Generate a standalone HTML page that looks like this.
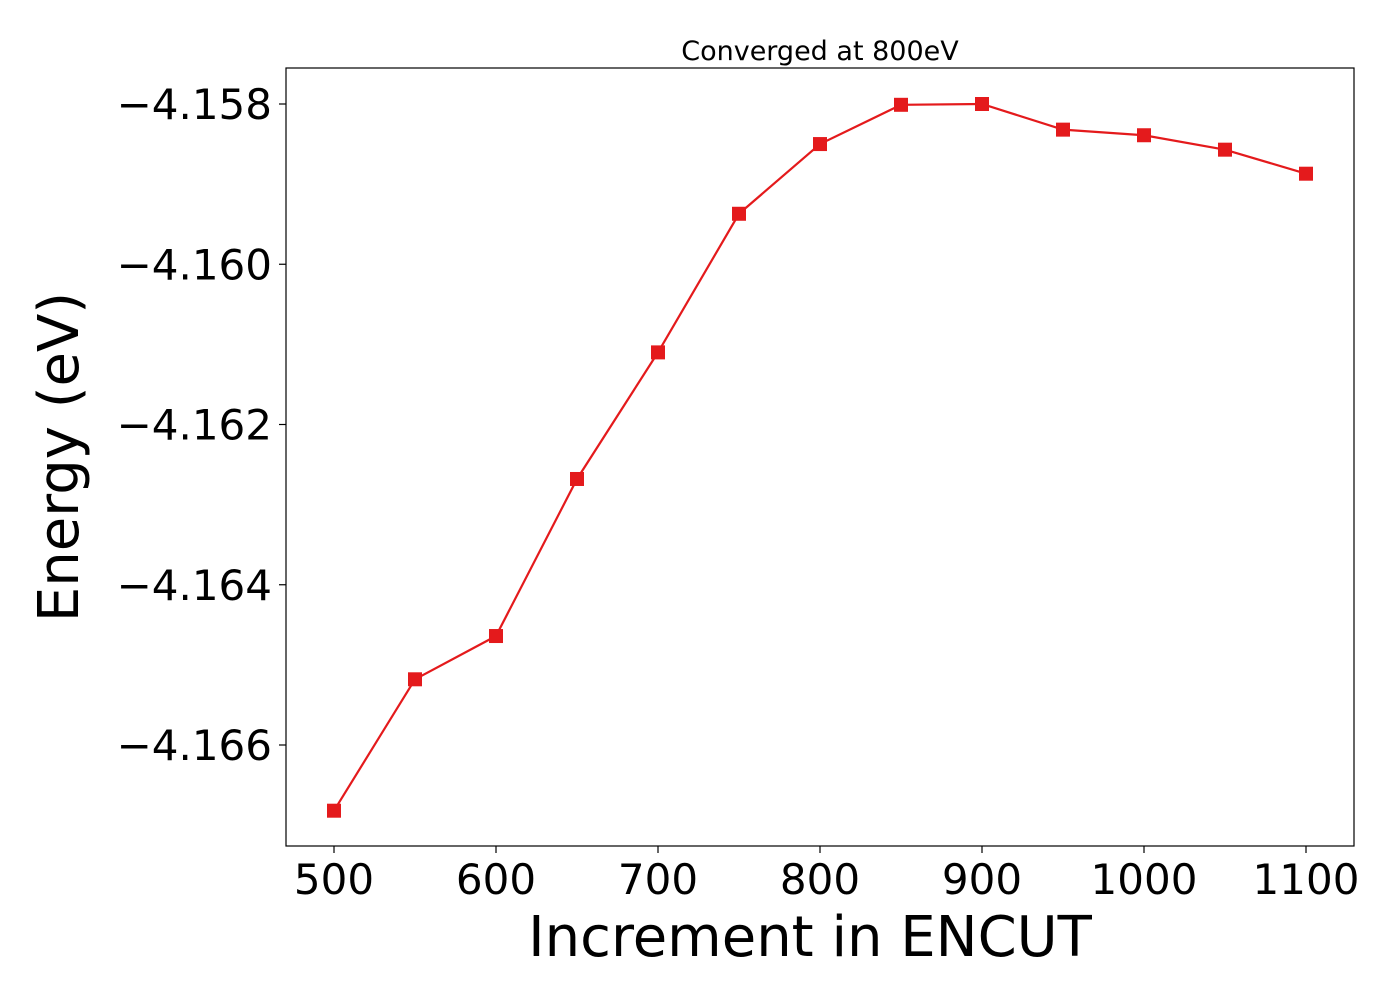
<!DOCTYPE html>
<html><head><meta charset="utf-8"><style>
html,body{margin:0;padding:0;background:#fff;}
svg text{font-family:"DejaVu Sans","Liberation Sans",sans-serif;fill:#000;}
</style></head><body>
<svg id="chart" width="1400" height="1000">
<rect x="0" y="0" width="1400" height="1000" fill="#fff"/>
<g id="ticks"></g>
<g id="series"></g>
<rect x="286" y="68" width="1068" height="778" fill="none" stroke="#000" stroke-width="1.2"/>
<text x="820" y="60" font-size="27" text-anchor="middle">Converged at 800eV</text>
<text x="810" y="956" font-size="56" text-anchor="middle">Increment in ENCUT</text>
<text transform="translate(78,457) rotate(-90)" font-size="56" text-anchor="middle">Energy (eV)</text>
</svg>
<script>
const encut = [500,550,600,650,700,750,800,850,900,950,1000,1050,1100];
const energy = [-4.16682,-4.16518,-4.16464,-4.16268,-4.16110,-4.15937,-4.15850,-4.15801,-4.15800,-4.15832,-4.15839,-4.15857,-4.15887];
const xTicks = [500,600,700,800,900,1000,1100];
const yTicks = [-4.158,-4.160,-4.162,-4.164,-4.166];
const yTickLabels = ["\u22124.158","\u22124.160","\u22124.162","\u22124.164","\u22124.166"];

const NS="http://www.w3.org/2000/svg";
function xs(v){return 334+(v-500)*(1306-334)/600;}
function ys(v){return 104+(-4.158-v)*80.125/0.001;}
const tg=document.getElementById('ticks'), sg=document.getElementById('series');
function mk(tag,attrs,parent){const e=document.createElementNS(NS,tag);for(const k in attrs)e.setAttribute(k,attrs[k]);parent.appendChild(e);return e;}
xTicks.forEach(t=>{
  const l=mk('line',{x1:xs(t),x2:xs(t),y1:846,y2:853,stroke:'#000','stroke-width':1.2},tg);
  
  
  const tx=mk('text',{x:xs(t),y:894,'font-size':42,'text-anchor':'middle'},tg);
  tx.textContent=t;
  
  
});
yTicks.forEach((t,i)=>{
  const l=mk('line',{x1:279,x2:286,y1:ys(t),y2:ys(t),stroke:'#000','stroke-width':1.2},tg);
  
  
  const tx=mk('text',{x:272,y:ys(t)+15,'font-size':42,'text-anchor':'end'},tg);
  tx.textContent=yTickLabels[i];
  
  
});
const pts=encut.map((v,i)=>xs(v)+','+ys(energy[i])).join(' ');
const line=mk('polyline',{points:pts,fill:'none',stroke:'#e41a1c','stroke-width':2.2},sg);


encut.forEach((v,i)=>{
  const r=mk('rect',{x:xs(v)-7,y:ys(energy[i])-7,width:14,height:14,fill:'#e41a1c'},sg);
  
  
});
</script>
</body></html>
